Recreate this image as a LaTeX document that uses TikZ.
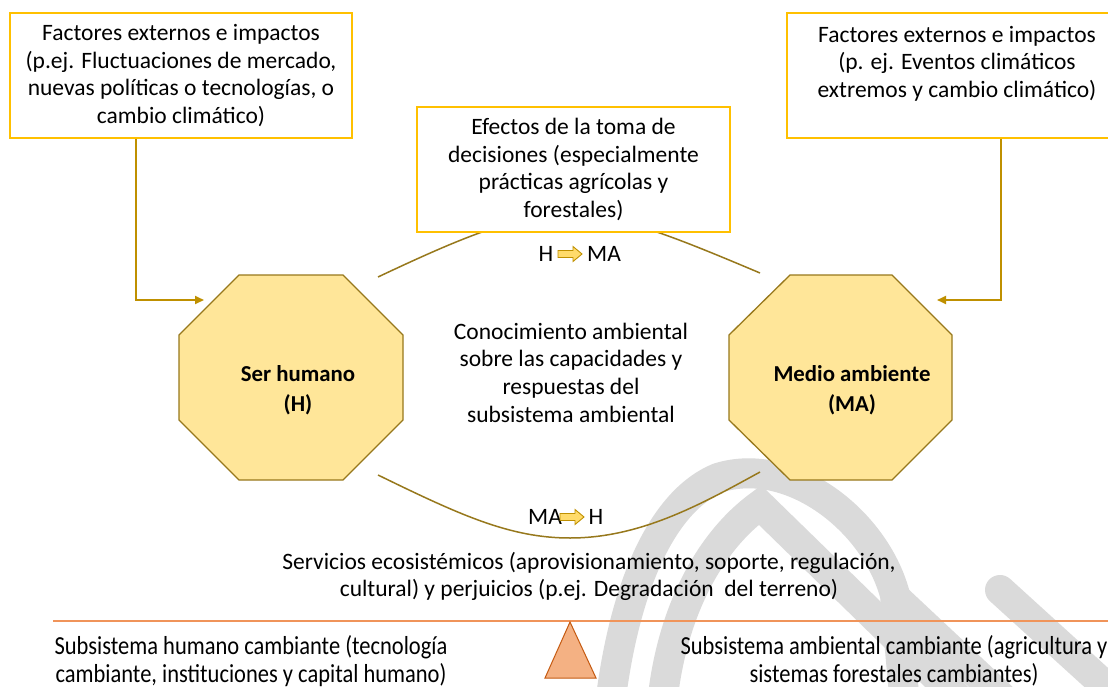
\documentclass[tikz,border=0pt]{standalone}
\usepackage{fontspec}
\setmainfont{Carlito}
\newfontfamily\condfont{Carlito}[FakeStretch=0.865]
\usetikzlibrary{arrows.meta}
\definecolor{boxgold}{HTML}{FFC000}
\definecolor{argold}{HTML}{BF9000}
\definecolor{octfill}{HTML}{FFE699}
\definecolor{octline}{HTML}{97781C}
\definecolor{orline}{HTML}{F0945A}
\definecolor{trifill}{HTML}{F4B183}
\definecolor{triline}{HTML}{C55A11}
\definecolor{wmark}{HTML}{DADADA}
\tikzset{
  gbox/.style={draw=boxgold, line width=1.3pt, fill=white, align=center, inner sep=0pt,
    font=\fontsize{23.5}{27.7}\selectfont},
  txt/.style={align=center, inner sep=0pt, font=\fontsize{23.5}{27.7}\selectfont},
  btxt/.style={align=center, inner sep=0pt, font=\fontsize{22.8}{30}\selectfont\bfseries},
  ctxt/.style={align=center, inner sep=0pt, font=\fontsize{26}{28}\condfont},
  octo/.style={fill=octfill, draw=octline, line width=1.3pt, line join=miter},
  conn/.style={draw=argold, line width=2pt, -{Triangle[length=9pt,width=8pt]}},
  arc/.style={draw=octline, line width=1.5pt},
  wm/.style={draw=wmark, line width=30pt, line cap=round},
  barrow/.pic={\draw[fill=octfill!70!boxgold, draw=argold, line width=0.9pt, line join=miter]
     (-12,-3.5) -- (3,-3.5) -- (3,-7.5) -- (12,0) -- (3,7.5) -- (3,3.5) -- (-12,3.5) -- cycle;}
}
\begin{document}
\begin{tikzpicture}[x=1pt,y=-1pt]
\clip (0,0) rectangle (1108,687);
\fill[white] (0,0) rectangle (1108,687);
% watermark
\draw[wm] (610,705) .. controls (625,580) and (665,500) .. (718,478)
   .. controls (790,455) and (875,520) .. (895,595) -- (905,705);
\draw[wm] (662,705) .. controls (670,620) and (705,545) .. (760,505) -- (960,700);
\draw[wm] (898,600) -- (1010,705);
\draw[wm] (1000,590) -- (1110,690);
% arcs
\draw[arc] (378,277) .. controls (558,192) and (580,197) .. (760,273);
\draw[arc] (378,475) .. controls (460,515) and (510,538) .. (570,538)
   .. controls (640,538) and (700,505) .. (760,472);
% boxes
\node[gbox, minimum width=342pt, minimum height=125pt] (tl) at (181,75.5)
  {Factores externos e impactos\\(p.ej. Fluctuaciones de mercado,\\nuevas políticas o tecnologías, o\\cambio climático)};
\node[gbox, minimum width=340pt, minimum height=125pt] (tr) at (957,75.5)
  {Factores externos e impactos\\(p. ej. Eventos climáticos\\extremos y cambio climático)\\\mbox{}};
\node[gbox, minimum width=313pt, minimum height=125pt] (ef) at (573.5,169.5)
  {Efectos de la toma de\\decisiones (especialmente\\prácticas agrícolas y\\forestales)};
% octagons
\draw[octo] (239,275) -- (343,275) -- (403,335) -- (403,420) -- (343,480) -- (239,480) -- (179,420) -- (179,335) -- cycle;
\draw[octo] (790,275) -- (892,275) -- (952,335) -- (952,420) -- (892,480) -- (790,480) -- (729,420) -- (729,335) -- cycle;
\node[btxt] (H) at (298,390) {Ser humano\\(H)};
\node[btxt] (MA) at (852,390) {Medio ambiente\\(MA)};
% connectors
\coordinate (hin) at (204,300);
\coordinate (main) at (937,300);
\draw[conn] ([xshift=127pt]tl.south west) |- (hin);
\draw[conn] ([xshift=-127pt]tr.south east) |- (main);
% H -> MA label
\node[txt] (l1a) at (546,254) {H};
\pic at (570,254) {barrow};
\node[txt] (l1b) at (604,254) {MA};
\node[txt] (l2a) at (545,517) {MA};
\pic at (572,517) {barrow};
\node[txt] (l2b) at (596,517) {H};
% center text
\node[txt] (kn) at (571,372.5) {Conocimiento ambiental\\sobre las capacidades y\\respuestas del\\subsistema ambiental};
\node[txt] (sv) at (589,576.5) {Servicios ecosistémicos (aprovisionamiento, soporte, regulación,\\cultural) y perjuicios (p.ej. Degradación~~del terreno)};
% balance
\coordinate (ls) at (53,621);
\coordinate (le) at (1110,621);
\draw[orline, line width=1.8pt] (ls) -- (le);
\draw[fill=trifill, draw=triline, line width=1pt] (570,622) -- (596,678) -- (545,678) -- cycle;
\node[ctxt] (bl) at (251,661) {Subsistema humano cambiante (tecnología\\cambiante, instituciones y capital humano)};
\node[ctxt] (br) at (894,661) {Subsistema ambiental cambiante (agricultura y\\sistemas forestales cambiantes)};
\end{tikzpicture}
\end{document}
